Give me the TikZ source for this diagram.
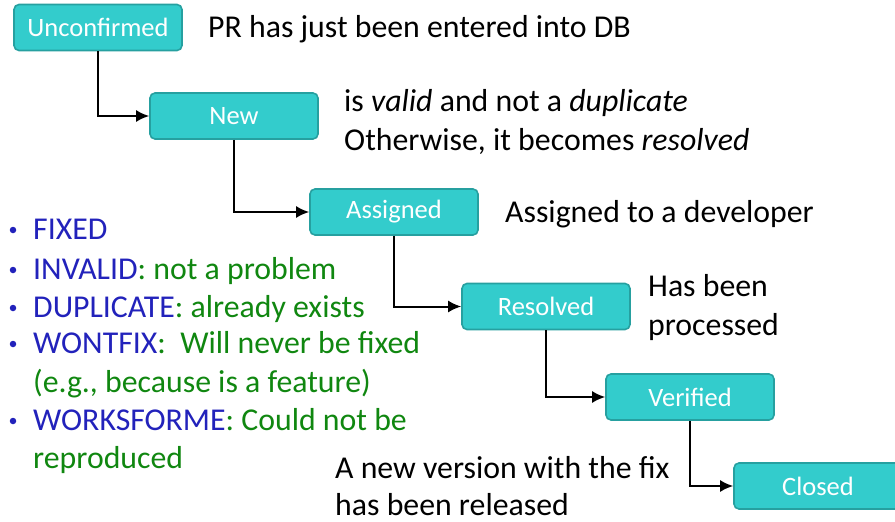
\documentclass[tikz,border=0pt]{standalone}
\usepackage{fontspec}
\setmainfont{Carlito}
\usetikzlibrary{arrows.meta}
\definecolor{boxfill}{RGB}{51,204,204}
\definecolor{boxdraw}{RGB}{38,160,160}
\definecolor{kwblue}{RGB}{34,34,187}
\definecolor{kwgreen}{RGB}{16,135,16}
\tikzset{
  state/.style={draw=boxdraw, fill=boxfill, line width=1.6pt, rounded corners=5pt,
    minimum width=168pt, minimum height=46pt, text=white, font=\fontsize{26.5}{30}\selectfont, inner sep=0pt},
  desc/.style={anchor=base west, inner sep=0pt, font=\fontsize{31.8}{36}\selectfont},
  blt/.style={anchor=base west, inner sep=0pt, font=\fontsize{31.8}{36}\selectfont, text=kwblue},
  bdot/.style={circle, fill=kwblue, inner sep=0pt, minimum size=6.5pt},
  flow/.style={line width=2pt, -{Latex[length=13pt,width=12pt]}}
}
\begin{document}
\begin{tikzpicture}[x=1pt,y=-1pt]
\useasboundingbox (0,0) rectangle (895,522);
\node[state] (unc) at (98,27.5) {Unconfirmed};
\node[state] (new) at (234,116) {New};
\node[state] (asg) at (394,212) {Assigned};
\node[state] (res) at (546,306.5) {Resolved};
\node[state] (ver) at (690,397) {Verified};
\node[state] (clo) at (818,486) {Closed};

\draw[flow] (unc.south) |- (new.west);
\draw[flow] (new.south) |- (asg.west);
\draw[flow] (asg.south) |- (res.west);
\draw[flow] (res.south) |- (ver.west);
\draw[flow] (ver.south) |- (clo.west);

\node[desc] (d1) at (208,37) {PR has just been entered into DB};
\node[desc] (d2a) at (344,111) {is \textit{valid} and not a \textit{duplicate}};
\node[desc] (d2b) at (344,150) {Otherwise, it becomes \textit{resolved}};
\node[desc] (d3) at (505,222) {Assigned to a developer};
\node[desc] (d4a) at (648,296) {Has been};
\node[desc] (d4b) at (648,335) {processed};
\node[desc] (d5a) at (335,478) {A new version with the fix};
\node[desc] (d5b) at (335,515) {has been released};

\foreach \n/\yy in {b1/239,b2/279,b3/317,b4/353,b6/430}{
  \node[bdot] (\n dot) at (13,\yy-9) {};
}
\node[blt] (b1) at (33,239) {FIXED};
\node[blt] (b2) at (33,279) {INVALID\textcolor{kwgreen}{: not a problem}};
\node[blt] (b3) at (33,317) {DUPLICATE\textcolor{kwgreen}{: already exists}};
\node[blt] (b4) at (33,353) {WONTFIX\textcolor{kwgreen}{:\ \ Will never be fixed}};
\node[blt, text=kwgreen] (b5) at (33,392) {(e.g., because is a feature)};
\node[blt] (b6) at (33,430) {WORKSFORME\textcolor{kwgreen}{: Could not be}};
\node[blt, text=kwgreen] (b7) at (33,468) {reproduced};
\end{tikzpicture}
\end{document}
